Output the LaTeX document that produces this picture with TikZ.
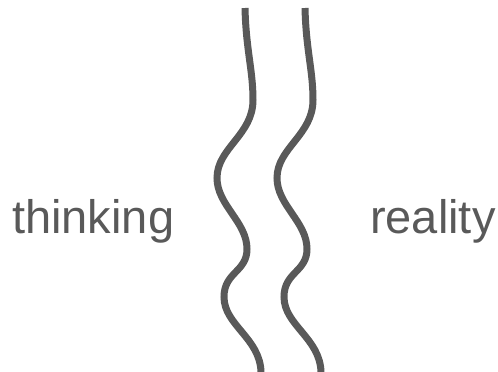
\documentclass[tikz,border=0pt]{standalone}
\usepackage{fontspec}
\setmainfont{Liberation Sans}
\usepackage{tikz}
\usetikzlibrary{positioning}

\definecolor{wavegray}{HTML}{595959}

\begin{document}
\begin{tikzpicture}[
    x=1pt, y=-1pt,
    % --- Styles ---
    word/.style={text=wavegray, inner sep=0pt, anchor=base west,
      font=\fontsize{47}{50}\selectfont},
    wave/.style={draw=wavegray, line width=7pt, line cap=butt},
]
\useasboundingbox (0,0) rectangle (498,372);

% === Labels ===
\node[word] (thinking) at (12,233) {thinking};
\node[word] (reality) at (370,233) {reality};

% === The two wavy lines ===
\foreach \dx in {0,60} {
  \draw[wave, xshift=\dx] (245,8)
    .. controls (246,50) and (253,70) .. (253,100)
    .. controls (253,135) and (217,148) .. (217,178)
    .. controls (217,205) and (247,222) .. (247,249)
    .. controls (247,272) and (224,272) .. (224,297)
    .. controls (224,325) and (260,338) .. (261,372);
}

\end{tikzpicture}
\end{document}
